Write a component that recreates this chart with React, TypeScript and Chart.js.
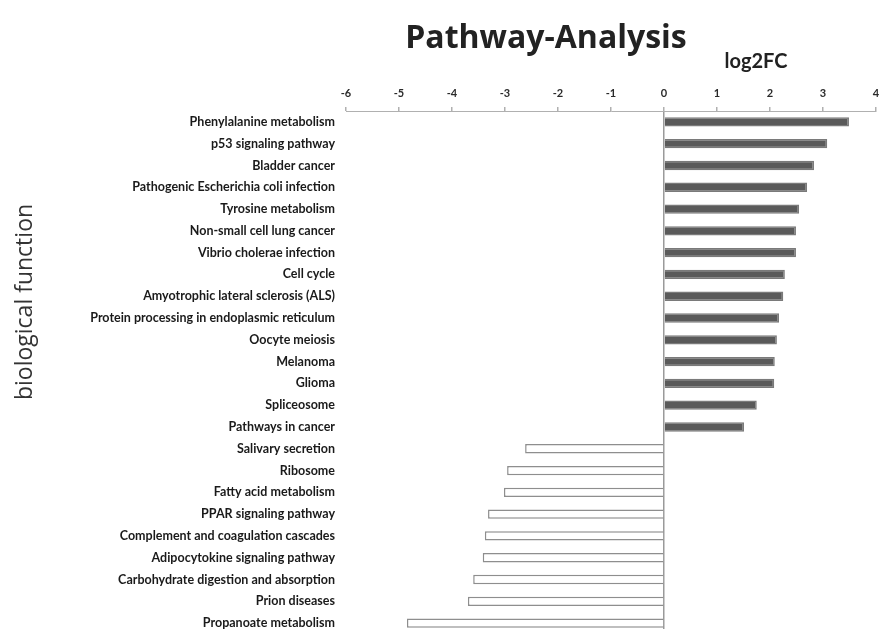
import React, { useEffect, useRef } from "react";
import { Chart, registerables } from "chart.js";

Chart.register(...registerables);

const categories: string[] = [
  "Phenylalanine metabolism",
  "p53 signaling pathway",
  "Bladder cancer",
  "Pathogenic Escherichia coli infection",
  "Tyrosine metabolism",
  "Non-small cell lung cancer",
  "Vibrio cholerae infection",
  "Cell cycle",
  "Amyotrophic lateral sclerosis (ALS)",
  "Protein processing in endoplasmic reticulum",
  "Oocyte meiosis",
  "Melanoma",
  "Glioma",
  "Spliceosome",
  "Pathways in cancer",
  "Salivary secretion",
  "Ribosome",
  "Fatty acid metabolism",
  "PPAR signaling pathway",
  "Complement and coagulation cascades",
  "Adipocytokine signaling pathway",
  "Carbohydrate digestion and absorption",
  "Prion diseases",
  "Propanoate metabolism",
];

const log2FC: number[] = [
  3.49, 3.08, 2.83, 2.7, 2.55, 2.49, 2.49, 2.28, 2.25, 2.17, 2.13, 2.09, 2.08,
  1.75, 1.51, -2.62, -2.96, -3.02, -3.32, -3.38, -3.42, -3.6, -3.7, -4.85,
];

const xMin = -6;
const xMax = 4;
const titleText = "Pathway-Analysis";
const xTitleText = "log2FC";
const yTitleText = "biological function";

const textPlugin = {
  id: "customTexts",
  afterDraw(chart: any) {
    const ctx = chart.ctx;
    ctx.save();
    ctx.fillStyle = "#222";
    ctx.textAlign = "center";
    ctx.textBaseline = "alphabetic";
    ctx.font = "bold 32px 'Open Sans'";
    ctx.fillText(titleText, 546, 48);
    ctx.font = "bold 20px Lato";
    ctx.fillText(xTitleText, 756, 68);
    ctx.translate(25, 302);
    ctx.rotate(-Math.PI / 2);
    ctx.font = "23px 'Open Sans'";
    ctx.fillStyle = "#333";
    ctx.textBaseline = "middle";
    ctx.fillText(yTitleText, 0, 0);
    ctx.restore();
  },
};

export default function App() {
  const ref = useRef<HTMLCanvasElement | null>(null);

  useEffect(() => {
    if (!ref.current) return;
    const chart = new Chart(ref.current, {
      type: "bar",
      data: {
        labels: categories,
        datasets: [
          {
            data: log2FC,
            backgroundColor: log2FC.map((v) => (v >= 0 ? "#5a5a5a" : "#ffffff")),
            borderColor: log2FC.map((v) => (v >= 0 ? "#7a7a7a" : "#8e8e8e")),
            borderWidth: 1.5,
            barPercentage: 0.43,
            categoryPercentage: 1,
          },
        ],
      },
      options: {
        indexAxis: "y",
        responsive: false,
        animation: false,
        layout: { padding: { top: 0, right: 3, bottom: 11, left: 0 } },
        plugins: {
          legend: { display: false },
          tooltip: { enabled: false },
          title: { display: false },
        },
        scales: {
          x: {
            type: "linear",
            position: "top",
            min: xMin,
            max: xMax,
            ticks: {
              stepSize: 1,
              padding: 7,
              color: "#2a2a2a",
              font: { family: "Lato", weight: "bold", size: 11 },
            },
            grid: {
              color: (c: any) => (c.tick && c.tick.value === 0 ? "#9a9a9a" : "rgba(0,0,0,0)"),
              lineWidth: 1.5,
              tickColor: "#b0b0b0",
              tickLength: 4,
              drawOnChartArea: true,
            },
            border: { display: true, color: "#b0b0b0", width: 1 },
            afterFit: (s: any) => {
              s.height = 111;
              s.paddingLeft = 0;
              s.paddingRight = 0;
            },
          },
          y: {
            type: "category",
            position: "left",
            ticks: {
              autoSkip: false,
              padding: 11,
              color: "#1a1a1a",
              font: { family: "Lato", weight: "bold", size: 12.5 },
            },
            grid: { display: false, drawTicks: false },
            border: { display: false },
            afterFit: (s: any) => {
              s.width = 346;
              s.paddingTop = 0;
              s.paddingBottom = 0;
            },
          },
        },
      },
      plugins: [textPlugin],
    });
    return () => chart.destroy();
  }, []);

  return (
    <div
      style={{
        position: "fixed",
        left: 0,
        top: 0,
        width: 879,
        height: 629,
        overflow: "hidden",
        background: "#fff",
      }}
    >
      <canvas ref={ref} width={879} height={645} style={{ display: "block" }} />
    </div>
  );
}
